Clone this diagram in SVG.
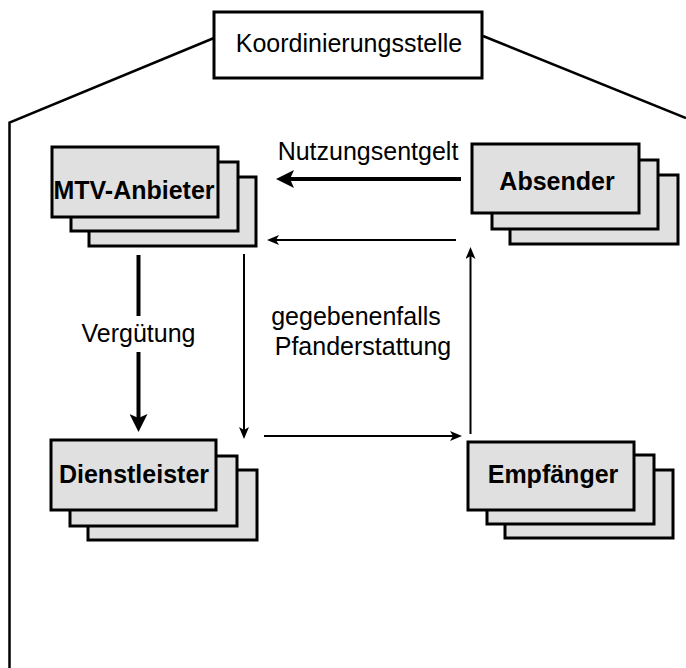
<svg xmlns="http://www.w3.org/2000/svg" width="686" height="668" viewBox="0 0 686 668">
<style>
.t{font-family:"Liberation Sans",Arial,sans-serif;font-size:25px;fill:#000}
.b{font-weight:bold;text-anchor:middle}
.card{fill:#e0e0e0;stroke:#000;stroke-width:3}
.frame{fill:none;stroke:#000;stroke-width:2.5}
.thick{fill:none;stroke:#000;stroke-width:4}
.thin{fill:none;stroke:#000;stroke-width:2}
</style>
<defs>
<marker id="ah" markerUnits="userSpaceOnUse" markerWidth="18" markerHeight="18" refX="8" refY="9" orient="auto" viewBox="0 0 18 18">
<path d="M0,0 L18,9 L0,18 L4,9 z" fill="#000"/>
</marker>
<marker id="as" markerUnits="userSpaceOnUse" markerWidth="12" markerHeight="10" refX="5" refY="5" orient="auto" viewBox="0 0 12 10">
<path d="M0,0 L12,5 L0,10 L3,5 z" fill="#000"/>
</marker>
</defs>
<g id="frame">
<path class="frame" d="M214,38 L9.5,122.5 L9.5,668"/>
<path class="frame" d="M483,36 L686,118"/>
</g>
<g id="koordinierungsstelle">
<rect x="214" y="12" width="268" height="66" fill="#fff" stroke="#000" stroke-width="3"/>
<text class="t" x="349" y="52" text-anchor="middle">Koordinierungsstelle</text>
</g>
<g id="mtv-anbieter">
<rect class="card" x="89" y="177" width="167" height="69"/>
<rect class="card" x="71" y="162" width="167" height="69"/>
<rect class="card" x="52" y="147" width="166" height="70"/>
<text class="t b" x="134" y="199">MTV-Anbieter</text>
</g>
<g id="absender">
<rect class="card" x="510" y="175" width="168" height="69"/>
<rect class="card" x="492" y="160" width="166" height="69"/>
<rect class="card" x="472" y="144" width="167" height="69"/>
<text class="t b" x="557" y="190">Absender</text>
</g>
<g id="dienstleister">
<rect class="card" x="88" y="470" width="169" height="70"/>
<rect class="card" x="70" y="456" width="167" height="70"/>
<rect class="card" x="51" y="440" width="165" height="70"/>
<text class="t b" x="134" y="483">Dienstleister</text>
</g>
<g id="empfaenger">
<rect class="card" x="505" y="470" width="168" height="68"/>
<rect class="card" x="487" y="455" width="167" height="69"/>
<rect class="card" x="468" y="442" width="166" height="68"/>
<text class="t b" x="553" y="483">Empfänger</text>
</g>
<g id="connectors">
<line class="thick" x1="461" y1="179" x2="286" y2="179" marker-end="url(#ah)"/>
<line class="thick" x1="138.5" y1="255" x2="138.5" y2="316"/>
<line class="thick" x1="138.5" y1="352" x2="138.5" y2="422" marker-end="url(#ah)"/>
<line class="thin" x1="456" y1="240" x2="274" y2="240" marker-end="url(#as)"/>
<line class="thin" x1="244" y1="254" x2="244" y2="432" marker-end="url(#as)"/>
<line class="thin" x1="264" y1="436" x2="455" y2="436" marker-end="url(#as)"/>
<line class="thin" x1="470.5" y1="434" x2="470.5" y2="254" marker-end="url(#as)"/>
</g>
<g id="labels">
<text class="t" x="368" y="160" text-anchor="middle">Nutzungsentgelt</text>
<text class="t" x="138.5" y="342" text-anchor="middle">Vergütung</text>
<text class="t" x="356" y="325" text-anchor="middle">gegebenenfalls</text>
<text class="t" x="363" y="355" text-anchor="middle">Pfanderstattung</text>
</g>
</svg>
